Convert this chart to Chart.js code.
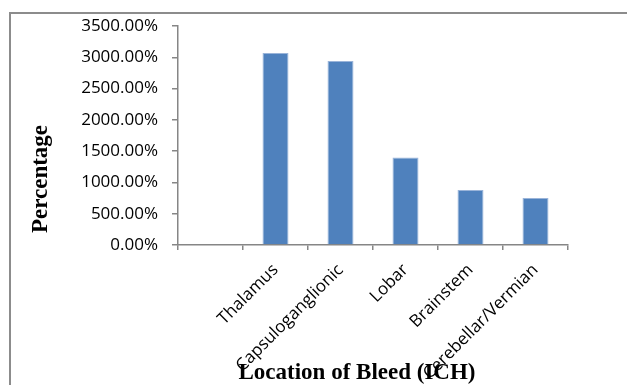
<!DOCTYPE html>
<html>
<head>
<meta charset="utf-8">
<script src="https://cdn.jsdelivr.net/npm/chart.js@4"></script>
<style>
  html, body { margin: 0; padding: 0; background: #fff; overflow: hidden; }
  #wrap { position: relative; width: 627px; height: 385px; }
  #frame { position: absolute; left: 9px; top: 12px; right: -10px; bottom: -10px;
           border-left: 2px solid #8c8c8c; border-top: 2px solid #8c8c8c; }
  #chart { position: absolute; left: 0; top: 0; }
</style>
</head>
<body>
<div id="wrap">
  <div id="frame"></div>
  <canvas id="chart" width="627" height="385"></canvas>
</div>
<script>
const categories = ['', 'Thalamus', 'Capsuloganglionic', 'Lobar', 'Brainstem', 'Cerebellar/Vermian'];
const percentages = [null, 3070, 2940, 1400, 880, 750];
const yMin = 0, yMax = 3500, yStep = 500;
const xTitle = 'Location of Bleed (ICH)';
const yTitle = 'Percentage';

// axis titles drawn where Excel put them (centred on the chart, not the axis)
const axisTitles = {
  id: 'axisTitles',
  afterDraw(chart) {
    const ctx = chart.ctx;
    ctx.save();
    ctx.fillStyle = '#000';
    ctx.font = 'bold 23px "Liberation Serif", serif';
    ctx.textAlign = 'center';
    ctx.textBaseline = 'middle';
    ctx.fillText(xTitle, 357, 373);
    ctx.translate(41, 179);
    ctx.rotate(-Math.PI / 2);
    ctx.fillText(yTitle, 0, 0);
    ctx.restore();
  }
};

const ctx = document.getElementById('chart').getContext('2d');
new Chart(ctx, {
  type: 'bar',
  data: {
    labels: categories,
    datasets: [{
      data: percentages,
      backgroundColor: '#4F81BD',
      borderColor: '#9AB4D9',
      borderWidth: 1,
      categoryPercentage: 1,
      barPercentage: 0.4
    }]
  },
  options: {
    responsive: false,
    animation: false,
    layout: { padding: { top: 26, right: 59, bottom: 0, left: 0 } },
    plugins: { legend: { display: false }, tooltip: { enabled: false } },
    scales: {
      x: {
        afterFit: s => { s.height = 140; },
        grid: { drawOnChartArea: false, tickLength: 5, color: '#868686', lineWidth: 1.5 },
        border: { color: '#868686', width: 1.5 },
        ticks: {
          color: '#000', maxRotation: 45, minRotation: 45, autoSkip: false, padding: 10,
          font: { family: '"Open Sans", sans-serif', size: 17 }
        }
      },
      y: {
        min: yMin, max: yMax,
        afterFit: s => { s.width = 178; },
        grid: { drawOnChartArea: false, tickLength: 6, color: '#868686', lineWidth: 1.5 },
        border: { color: '#868686', width: 1.5 },
        ticks: {
          stepSize: yStep, color: '#000', padding: 14,
          font: { family: '"Open Sans", sans-serif', size: 17 },
          callback: v => v.toFixed(2) + '%'
        }
      }
    }
  },
  plugins: [axisTitles]
});
</script>
</body>
</html>
